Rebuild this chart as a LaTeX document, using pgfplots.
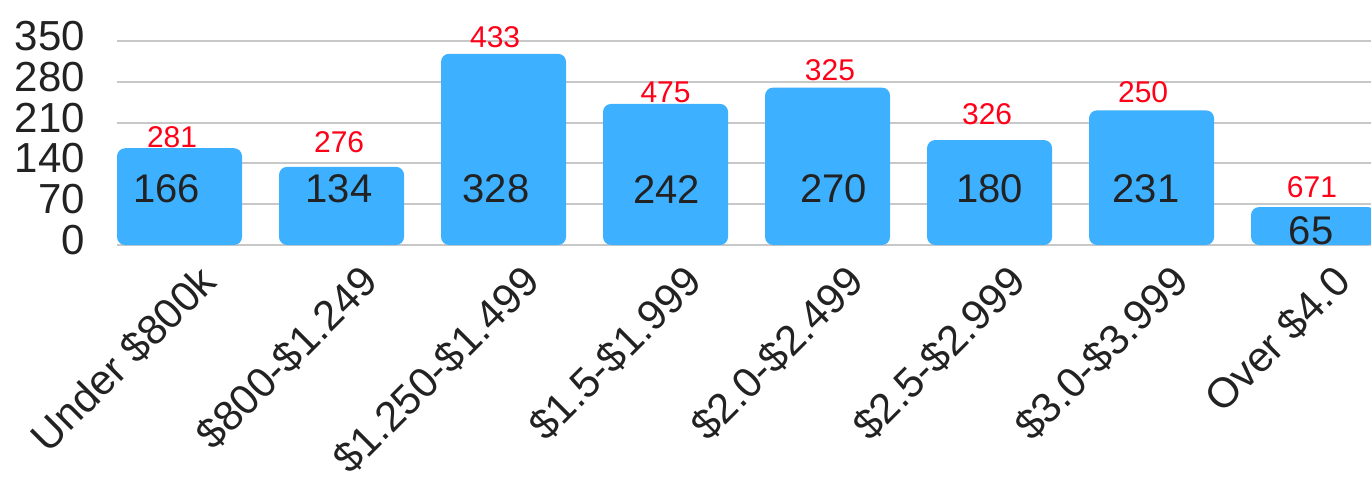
\documentclass[border=0pt]{standalone}
\usepackage{pgfplots}
\pgfplotsset{compat=1.18}
\usepackage{fontspec}
\setmainfont{Liberation Sans}
\definecolor{barblue}{RGB}{61,177,255}
\definecolor{lblred}{RGB}{255,0,25}
\definecolor{txt}{RGB}{34,34,34}
\definecolor{gridc}{RGB}{200,200,200}
\begin{document}
\begin{tikzpicture}
\useasboundingbox (0,0) rectangle (1371pt,477pt);
\begin{axis}[
  at={(117pt,232pt)}, anchor=south west,
  scale only axis, width=1254pt, height=204pt,
  xmin=-0.386, xmax=7.355, ymin=0, ymax=350,
  ytick={0,70,140,210,280,350},
  xtick={0,...,7},
  xticklabels={Under \$800k,\$800-\$1.249,\$1.250-\$1.499,\$1.5-\$1.999,\$2.0-\$2.499,\$2.5-\$2.999,\$3.0-\$3.999,Over \$4.0},
  axis line style={draw=none},
  major tick length=0pt,
  ymajorgrids, grid style={gridc, line width=2pt},
  tick label style={font=\fontsize{42}{42}\selectfont, text=txt},
  yticklabel style={inner sep=0pt, xshift=-32pt, yshift=5pt},
  xticklabel style={inner sep=0pt, xshift=17pt, yshift=-17pt, rotate=45, anchor=north east},
  /pgf/number format/assume math mode=true,
  clip=false,
]
\addplot[ybar, bar width=125pt, bar shift=0pt, fill=barblue, draw=none, rounded corners=8pt]
  coordinates {(0,166) (1,134) (2,328) (3,242) (4,270) (5,180) (6,231) (7,65)};
\addplot[draw=none, mark=none, nodes near coords, point meta=explicit symbolic,
  nodes near coords style={anchor=center, inner sep=0pt, font=\fontsize{40}{40}\selectfont, text=txt}]
  table[meta=lab] {
x y lab
-0.08 96 166
0.985 96 134
1.954 96 328
3.006 96 242
4.037 96 270
5.0 96 180
5.966 96 231
6.985 25 65
};
\addplot[draw=none, mark=none, nodes near coords, point meta=explicit symbolic,
  nodes near coords style={anchor=center, inner sep=0pt, font=\fontsize{30}{30}\selectfont, text=lblred}]
  table[meta=lab] {
x y lab
-0.046 185 281
0.985 177 276
1.948 356 433
3.0 262 475
4.015 300 325
4.985 225 326
5.948 262 250
6.99 99 671
};
\end{axis}
\end{tikzpicture}
\end{document}
